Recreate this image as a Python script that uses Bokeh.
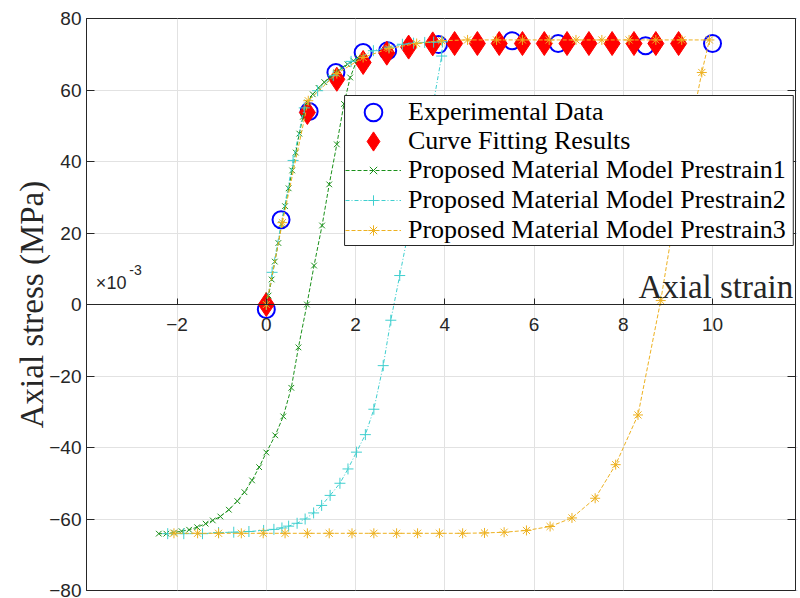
from bokeh.plotting import figure
from bokeh.models import (Range1d, FixedTicker, LinearAxis, Legend, LegendItem, Label,
                          BoxAnnotation)
from bokeh.embed import file_html
from bokeh.resources import INLINE

# Strain in units of 1e-3, stress in MPa
exp_strain = [0.00, 0.33, 0.96, 1.56, 2.17, 2.72, 3.86, 5.51, 6.54, 8.50, 10.00]
exp_stress = [-1.4, 23.7, 54.0, 64.9, 70.5, 71.0, 72.7, 73.8, 73.0, 72.4, 73.0]

fit_strain = [0.00, 0.92, 1.58, 2.17, 2.70, 3.19, 3.73, 4.22, 4.73, 5.22, 5.74,
              6.23, 6.74, 7.23, 7.75, 8.24, 8.73, 9.24]
fit_stress = [0.0, 53.7, 63.0, 67.7, 70.3, 72.0, 72.9, 73.0, 73.0, 73.0, 73.0,
              73.0, 73.0, 73.0, 73.0, 73.0, 73.0, 73.0]

# Prestrain 1: loading to ~2e-3, then reversed loading
pre1_strain = [0.00, 0.05, 0.12, 0.19, 0.27, 0.34, 0.42, 0.50, 0.58, 0.66, 0.74,
               0.82, 0.92, 1.04, 1.17, 1.30, 1.43, 1.56, 1.69, 1.82, 1.95, 2.05,
               1.88, 1.74, 1.58, 1.41, 1.25, 1.07, 0.91, 0.72, 0.56, 0.38, 0.20,
               0.00, -0.16, -0.32, -0.49, -0.65, -0.84, -1.03, -1.20, -1.36,
               -1.55, -1.73, -1.90, -2.07, -2.24, -2.41]
pre1_stress = [0.0, 2.5, 7.0, 12.0, 17.2, 22.5, 27.5, 32.5, 37.5, 42.5, 47.8,
               52.5, 56.5, 58.8, 60.6, 62.2, 63.6, 64.9, 66.1, 67.2, 68.2, 69.0,
               63.5, 56.1, 44.8, 33.6, 22.1, 10.9, 0.0, -12.0, -23.3, -31.3, -36.6,
               -41.4, -45.5, -49.2, -52.5, -55.0, -57.4, -59.3, -60.4, -61.3,
               -62.3, -63.0, -63.4, -63.8, -64.1, -64.1]

# Prestrain 2: loading to ~4e-3, then reversed loading
pre2_strain = [0.00, 0.13, 0.60, 0.85, 1.15, 1.50, 1.90, 2.40, 2.75, 3.05, 3.30,
               3.55, 3.75, 3.95,
               3.93, 3.74, 3.55, 3.36, 3.17, 2.99, 2.79, 2.62, 2.41, 2.22, 2.02,
               1.83, 1.65, 1.43, 1.24, 1.06, 0.87, 0.69, 0.50, 0.35, 0.17, -0.06,
               -0.39, -0.73, -1.07, -1.43, -1.85, -2.21]
pre2_stress = [0.0, 9.0, 40.3, 55.0, 59.8, 64.0, 68.0, 71.0, 72.0, 72.8, 73.1,
               73.3, 73.4, 73.5,
               69.5, 56.0, 43.5, 31.0, 19.5, 8.1, -4.4, -17.1, -29.3, -36.4, -41.3,
               -46.0, -50.0, -53.4, -56.2, -58.3, -60.0, -61.2, -62.0, -62.5, -62.9,
               -63.2, -63.5, -63.7, -63.8, -64.1, -64.1, -64.1]

# Prestrain 3: loading to ~10e-3, then reversed loading
pre3_strain = [0.00, 0.36, 0.94, 1.58, 2.17, 2.75, 3.37, 3.93, 4.51, 5.16, 5.74,
               6.34, 6.94, 7.52, 8.13, 8.73, 9.31, 9.93,
               9.76, 9.30, 8.84, 8.33, 7.83, 7.37, 6.85, 6.36, 5.83, 5.33, 4.89,
               4.40, 3.88, 3.39, 2.92, 2.41, 1.92, 1.41, 0.92, 0.42, -0.07, -0.56,
               -1.07, -1.54, -2.07]
pre3_stress = [0.0, 22.9, 57.0, 64.6, 69.1, 71.6, 73.0, 73.8, 74.0, 74.0, 74.0,
               74.0, 74.0, 74.0, 74.0, 74.0, 74.0, 74.0,
               64.9, 36.0, 1.1, -30.9, -44.8, -54.2, -59.7, -62.1, -63.2, -63.7,
               -63.9, -64.0, -64.0, -64.0, -64.0, -64.0, -64.0, -64.0, -64.0,
               -64.0, -64.0, -64.0, -64.0, -64.0, -64.0]

x_ticks = [-2, 0, 2, 4, 6, 8, 10]
y_ticks = [-80, -60, -40, -20, 0, 20, 40, 60, 80]

AX = "#262626"
SERIF = "Liberation Serif"
SANS = "Liberation Sans"

p = figure(width=800, height=598, output_backend="svg", toolbar_location=None,
           x_range=Range1d(-4.03, 11.86), y_range=Range1d(-80, 80),
           min_border_left=86, min_border_right=3, min_border_top=18,
           min_border_bottom=8, background_fill_color="white",
           border_fill_color="white")
p.outline_line_color = AX
p.outline_line_width = 1

# x axis drawn through the origin
xa = p.xaxis[0]
xa.fixed_location = 0
xa.ticker = FixedTicker(ticks=x_ticks)
xa.minor_tick_line_color = None
xa.major_tick_in = 6
xa.major_tick_out = 0
xa.axis_line_color = AX
xa.major_tick_line_color = AX
xa.major_label_text_font = SANS
xa.major_label_text_font_size = "19px"
xa.major_label_text_color = AX
xa.major_label_standoff = 13

ya = p.yaxis[0]
ya.ticker = FixedTicker(ticks=y_ticks)
ya.minor_tick_line_color = None
ya.major_tick_in = 8
ya.major_tick_out = 0
ya.axis_line_color = AX
ya.major_tick_line_color = AX
ya.major_label_text_font = SANS
ya.major_label_text_font_size = "19px"
ya.major_label_text_color = AX
ya.major_label_standoff = 5
ya.axis_label = "Axial stress (MPa)"
ya.axis_label_text_font = SERIF
ya.axis_label_text_font_size = "33px"
ya.axis_label_text_font_style = "normal"
ya.axis_label_text_color = AX
ya.axis_label_standoff = -4

ry = LinearAxis(ticker=FixedTicker(ticks=y_ticks), major_tick_in=8, major_tick_out=0,
                minor_tick_line_color=None, axis_line_color=AX,
                major_tick_line_color=AX, major_label_text_font_size="1px",
                major_label_standoff=0)
p.add_layout(ry, "right")

for g in (p.xgrid[0], p.ygrid[0]):
    g.grid_line_color = "#e2e2e2"
    g.grid_line_width = 1

exp_r = p.scatter(exp_strain, exp_stress, marker="circle", size=17,
                  fill_color=None, line_color="#0000ff", line_width=2)
fit_r = p.scatter(fit_strain, fit_stress, marker="diamond", size=24,
                  fill_color="#ff0000", line_color="#ff0000", line_width=1)

GREEN = "#1a901a"
CYAN = "#3fcfcf"
ORANGE = "#edb120"

l1 = p.line(pre1_strain, pre1_stress, line_color=GREEN, line_dash="4 2", line_width=1)
m1 = p.scatter(pre1_strain, pre1_stress, marker="x", size=8, line_color=GREEN, line_width=1)
l2 = p.line(pre2_strain, pre2_stress, line_color=CYAN, line_dash="4 2 1 2", line_width=1)
m2 = p.scatter(pre2_strain, pre2_stress, marker="cross", size=11, line_color=CYAN, line_width=1)
l3 = p.line(pre3_strain, pre3_stress, line_color=ORANGE, line_dash="4 2", line_width=1)
m3 = p.scatter(pre3_strain, pre3_stress, marker="asterisk", size=10, line_color=ORANGE, line_width=1)

# Legend frame (data-space box behind borderless legends)
p.add_layout(BoxAnnotation(left=1.754, right=11.81, bottom=16.5, top=58.46,
                           fill_color="white", fill_alpha=1.0,
                           line_color=AX, line_width=1, line_alpha=1.0))


def make_legend(items, loc, glyph_h):
    lg = Legend(items=items, location=loc)
    lg.label_text_font = SERIF
    lg.label_text_font_size = "26px"
    lg.label_text_color = "black"
    lg.label_text_line_height = 1.0
    lg.label_height = 26
    lg.glyph_height = glyph_h
    lg.glyph_width = 56
    lg.label_standoff = 7
    lg.spacing = 0
    lg.padding = 0
    lg.margin = 0
    lg.border_line_color = None
    lg.background_fill_alpha = 0
    p.add_layout(lg, "center")
    return lg


# marker-only entries get a taller glyph box so their symbols draw larger
make_legend([LegendItem(label="Experimental Data", renderers=[exp_r])], (259, 456), 44)
make_legend([LegendItem(label="Curve Fitting Results", renderers=[fit_r])], (259, 425), 48)
make_legend([
    LegendItem(label="Proposed Material Model Prestrain1", renderers=[l1, m1]),
    LegendItem(label="Proposed Material Model Prestrain2", renderers=[l2, m2]),
    LegendItem(label="Proposed Material Model Prestrain3", renderers=[l3, m3]),
], (259, 345), 26)

p.add_layout(Label(x=11.81, y=4.8, text="Axial strain", text_align="right",
                   text_baseline="alphabetic", text_font=SERIF,
                   text_font_size="33px", text_color=AX))
p.add_layout(Label(x=-3.82, y=5.9, text="\u00d710", text_align="left",
                   text_baseline="alphabetic", text_font=SANS,
                   text_font_size="18px", text_color=AX))
p.add_layout(Label(x=-3.07, y=9.6, text="-3", text_align="left",
                   text_baseline="alphabetic", text_font=SANS,
                   text_font_size="14px", text_color=AX))

open("out.html", "w").write(file_html(p, INLINE))
